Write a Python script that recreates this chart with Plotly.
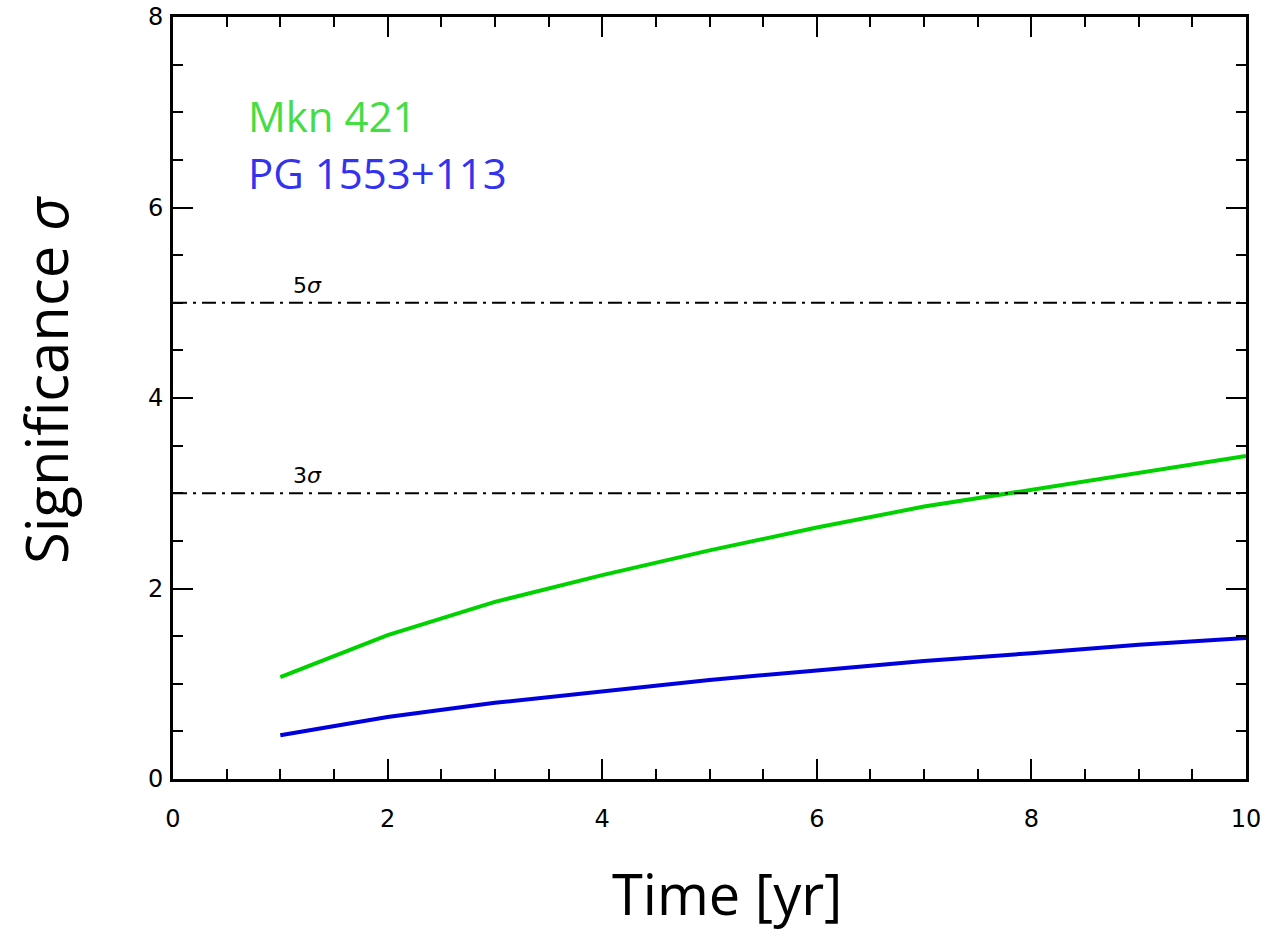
import plotly.graph_objects as go

years = [1, 2, 3, 4, 5, 6, 7, 8, 9, 10]
mkn421 = [1.07, 1.51, 1.86, 2.14, 2.40, 2.64, 2.86, 3.04, 3.21, 3.39]
pg1553 = [0.46, 0.65, 0.80, 0.92, 1.04, 1.14, 1.24, 1.32, 1.41, 1.48]
thresholds = [5, 3]
threshold_labels = ["5<i>σ</i>", "3<i>σ</i>"]
series_names = ["Mkn 421", "PG 1553+113"]

fig = go.Figure()
fig.add_trace(go.Scatter(x=years, y=mkn421, mode="lines", name=series_names[0],
                         line=dict(color="#00d200", width=4), showlegend=False))
fig.add_trace(go.Scatter(x=years, y=pg1553, mode="lines", name=series_names[1],
                         line=dict(color="#0000dd", width=4), showlegend=False))

for t, lab in zip(thresholds, threshold_labels):
    fig.add_hline(y=t, line=dict(color="black", width=2, dash="14px,6px,3px,6px"))
    fig.add_annotation(x=1.1, y=t, text=lab, showarrow=False, xanchor="left", yanchor="bottom",
                       yshift=3, font=dict(family="DejaVu Sans", size=22, color="black"))

fig.add_annotation(x=0.7, y=7.0, text=series_names[0], showarrow=False, xanchor="left", yanchor="middle",
                   xshift=-2, yshift=-3, font=dict(family="Open Sans", size=42, color="#44dd44"))
fig.add_annotation(x=0.7, y=6.4, text=series_names[1], showarrow=False, xanchor="left", yanchor="middle",
                   xshift=-2, yshift=-3, font=dict(family="Open Sans", size=42, color="#3333ee"))

# axis titles placed as paper annotations
fig.add_annotation(xref="paper", yref="paper", x=(727 - 173) / 1073, y=-(893 - 779) / 762,
                   text="Time [yr]", showarrow=False, xanchor="center", yanchor="middle",
                   font=dict(family="Open Sans", size=56, color="black"))
fig.add_annotation(xref="paper", yref="paper", x=-(173 - 45) / 1073, y=(779 - 380) / 762,
                   text="Significance <i>σ</i>", textangle=-90, showarrow=False,
                   xanchor="center", yanchor="middle",
                   font=dict(family="Open Sans", size=58, color="black"))

axis_common = dict(showline=True, linecolor="black", linewidth=3, mirror="allticks", ticks="inside",
                   tickcolor="black", tickwidth=2, ticklen=20, showgrid=False, zeroline=False,
                   tickfont=dict(family="DejaVu Sans", size=24, color="black"),
                   minor=dict(ticks="inside", dtick=0.5, ticklen=10, tickwidth=2, tickcolor="black", showgrid=False))

fig.update_xaxes(range=[0, 10], dtick=2, ticklabelstandoff=16, **axis_common)
fig.update_yaxes(range=[0, 8], dtick=2, ticklabelstandoff=2, **axis_common)

fig.update_layout(width=1268, height=936, margin=dict(l=173, r=22, t=17, b=157, autoexpand=False),
                  plot_bgcolor="white", paper_bgcolor="white")

fig.write_html("out.html", config={"displayModeBar": False},
               post_script="document.body.style.margin='0px';document.body.style.overflow='hidden';")
